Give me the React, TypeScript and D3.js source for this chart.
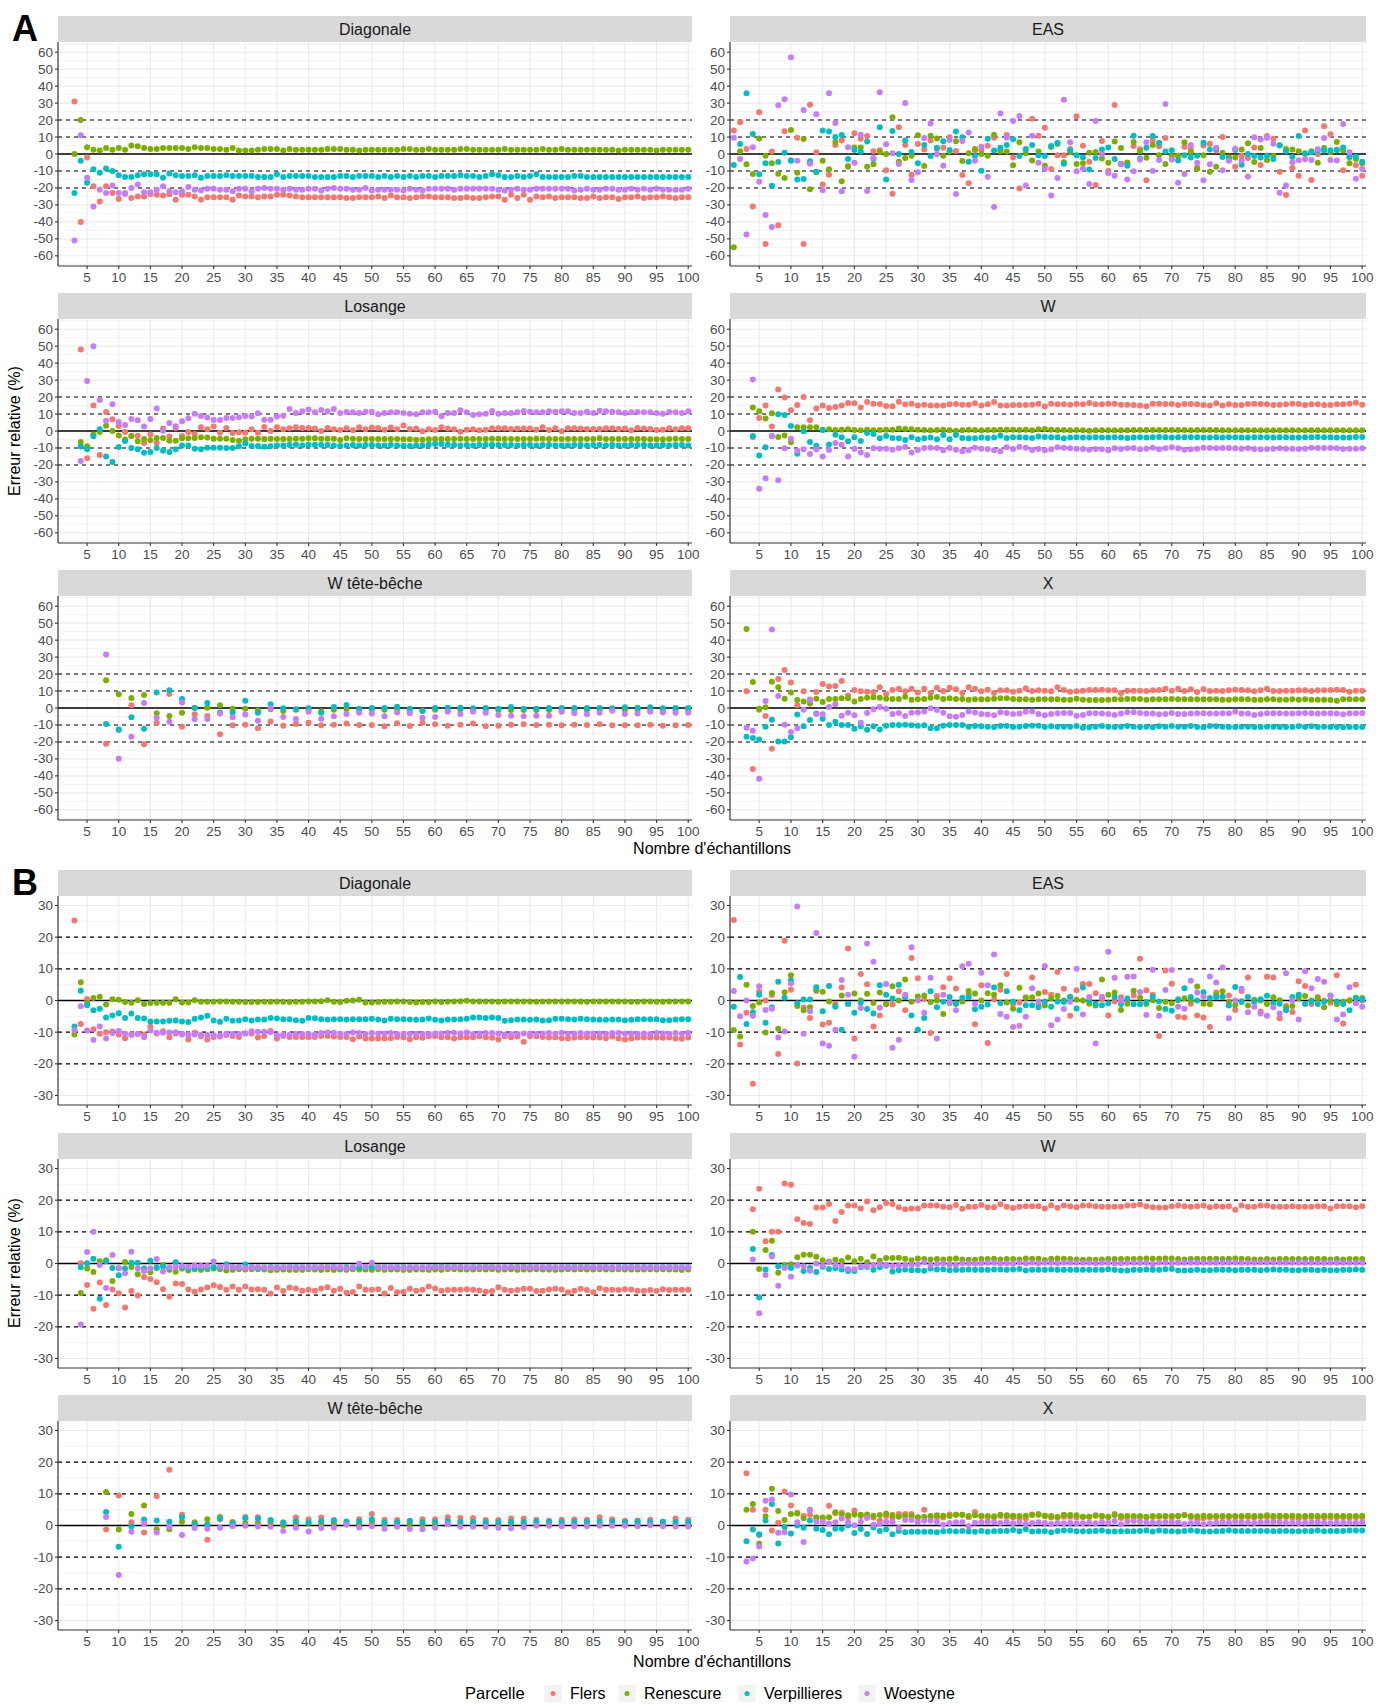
import React from "react";
import * as d3 from "d3";

// ---------------- DATA ----------------
const PARCELLES = ["Flers", "Renescure", "Verpillieres", "Woestyne"];
const COLORS = ["#F8766D", "#7CAE00", "#00BFC4", "#C77CFF"];
const X_TICKS = [5, 10, 15, 20, 25, 30, 35, 40, 45, 50, 55, 60, 65, 70, 75, 80, 85, 90, 95, 100];
const Y_TICKS_A = [-60, -50, -40, -30, -20, -10, 0, 10, 20, 30, 40, 50, 60];
const Y_MINOR_A = [-65, -55, -45, -35, -25, -15, -5, 5, 15, 25, 35, 45, 55, 65];
const Y_TICKS_B = [-30, -20, -10, 0, 10, 20, 30];
const Y_MINOR_B = [-25, -15, -5, 5, 15, 25];
const REF_LINES = [-20, -10, 10, 20];

// ---- A : Diagonale (n = 3..100)
const A_DIAG_FLERS = [31,-40,-2,-19,-28,-19,-23,-26.5,-23,-26,
-25,-25,-23.5,-24,-24.5,-23.7,-27,-24,-24,-25,
-27,-25.5,-25.5,-25.5,-25.5,-27,-24.5,-25,-25,-25.5,
-25,-25,-24,-24,-24.5,-25,-25.5,-25.5,-25.5,-25.5,
-25.5,-25.5,-25.5,-26,-26,-25.5,-25.5,-25.5,-25,-26,
-24.5,-25.5,-25.5,-26,-25.5,-25,-25,-25.5,-25.5,-25.5,
-26,-26,-25.5,-26,-26,-25.5,-25,-25,-27,-24,
-26,-24,-27,-25,-25.5,-25,-26,-25.5,-25.5,-25.5,
-26,-26,-25,-26,-25.5,-25.5,-26.5,-25.5,-25.5,-25,
-26,-25.5,-25.5,-25,-25.5,-26,-25.5,-25.5];
const A_DIAG_RENESCURE = [0,20,4,2.5,2,3.5,2.5,3.5,2.5,5,
4.5,3.5,3,3,3.5,3.5,3.5,3.5,3,4,
3.5,3.5,3,3,2.5,3.5,2,2,2,2.5,
3,3,3,2,3,2.5,2.5,2.5,2.5,2.5,
3,3,3,2.5,2.5,2,2.5,2.5,2.5,2.5,
2.5,2.5,3,3,2.5,2.5,3,2.5,2.5,2.5,
2.5,3,3,2.5,2.5,2.5,2.5,2.5,3,2.5,
2.5,2.5,2.5,2.5,3,2.5,2.5,3,2.5,2.5,
2.5,2.5,2.5,2.5,2.5,2.5,2,2.5,2.5,2.5,
2.5,2.5,2,2.5,2.5,2.5,2.5,2.5];
const A_DIAG_VERPILLIERES = [-23,-4,-17,-9,-11,-8.5,-10,-12.5,-13.5,-13.5,
-12.5,-12,-12,-12,-14,-11.5,-12.5,-13,-13,-12.5,
-14,-13,-13,-13,-12.5,-13,-13,-13,-13,-13.5,
-13.5,-13.5,-12,-13.5,-13,-13,-13,-13,-13.5,-13.5,
-13.5,-13.5,-13,-13,-13.5,-13,-13,-13,-13.5,-13,
-13.5,-13,-13.5,-13,-13.5,-13,-13,-13.5,-13,-13,
-13,-12.5,-13,-13,-13.5,-13,-12,-12.5,-13.5,-13.5,
-13,-13.5,-13,-12,-13.5,-13.5,-13.5,-13.5,-13.5,-13,
-13,-13.5,-13.5,-13.5,-13.5,-13.5,-13.5,-13.5,-13.5,-13.5,
-13.5,-13.5,-13.5,-13.5,-13.5,-13.5,-13.5,-13.5];
const A_DIAG_WOESTYNE = [-51,11,-14,-31,-21,-23,-18.5,-23,-23.5,-20,
-18,-22.5,-22.5,-21,-19,-22,-22.5,-22,-19.5,-21,
-21.5,-20.5,-20.5,-21,-21,-22,-20.5,-20.5,-22,-20.5,
-20,-20.5,-20.5,-21,-20.5,-21,-21,-20.5,-20.5,-21.5,
-20.5,-20,-20.5,-20.5,-21,-21,-20,-21.5,-21,-21,
-21,-21,-21.5,-20.5,-21,-21.5,-20.5,-20.5,-20.5,-20.5,
-21,-20.5,-20.5,-20.5,-20.5,-20.5,-20.5,-21,-21.5,-21,
-20.5,-21,-21,-20.5,-20.5,-20.5,-20.5,-20.5,-20.5,-21.5,
-21,-20.5,-21,-21,-20.5,-20.5,-21,-21,-20.5,-21,
-20.5,-21,-20.5,-21,-21,-21,-21,-20.5];

// ---- A : EAS (n = 1..100)
const A_EAS_FLERS = [13.8,18.7,3,-31,24.6,-53,1.4,-42,13.4,-3.7,
9.6,-53,29,1,-18,-12.2,5.3,8,-7,12.2,
9,10.6,1.6,2.2,-9.6,-23.4,15.7,5.3,-12.2,5.9,
2.6,8,3,3.7,9.8,1.8,-12.4,-17.3,2,2.2,
4.9,9.6,2.6,11.2,-2,-20.3,3,20.7,10.8,15.5,
-8.9,-0.8,-0.8,3,22.2,4.9,-4.5,-18.3,7.7,-10,
28.9,-5.7,-5.7,4.7,2.8,-15.5,8,4.5,9.4,-2.8,
-1,4.3,2.8,-8,5,6.1,2,10,-2,-7.5,
-1,-2.4,3.9,-6.5,10.6,9,-10.4,-24.2,-8.3,-12.8,
13.8,-15.3,0,16.3,11.6,2.6,-9.6,-2,-6.7,-12.8];
const A_EAS_RENESCURE = [-55,1.6,-6,-11.8,9.2,-1,-5.5,-11.6,-14.2,14.2,
-11,8.9,-20.7,-10.8,-4,-9,7,-16.1,-7.5,3.9,
3.9,-7.5,-6.1,1.2,0,21.6,-4.5,-2.4,-1,11,
-7.1,10.8,9.2,-1,1.4,7.5,-4.1,0.4,3,0,
-1,11.4,1.6,1.4,-6.7,6.9,0.4,-3.9,1.4,-6.9,
4.1,5.9,-4.9,1,-5.9,-5.5,0.8,1.2,-2.6,-5.1,
7.3,3.5,-5,7.1,1.8,-2.2,5.3,-0.8,-5.9,-0.8,
-1,6.9,1,-8.7,-0.8,-10.4,-7.5,0.8,-2,-2,
2.6,6.3,-4.7,3.5,-3.5,-1,5,3,2.6,1.6,
0,1.6,-5.1,3.5,1,7.1,2,-5.5,-3,-5.5];
const A_EAS_VERPILLIERES = [-6.5,5.9,35.8,11.8,-12,-5.5,-18.7,-4.7,0.8,-4,
-15,-14.8,-4.3,-10.4,13.8,13.2,10,11.2,-3,2.4,
1.4,7.3,-3,15.7,-15,13.6,0,7.9,1.2,-5.5,
5.3,-1.2,3.7,7.5,2.4,13.2,9.8,-4.5,-1,-9.8,
9,2,3.7,5.3,8.7,-1.2,2.8,5.3,-0.8,-1.2,
4.7,6.7,-5.7,2.2,-0.8,-2,-9.2,-2.4,2.6,3.9,
-3,-6.1,-6.9,10.8,-2.6,3.7,10.6,6.7,1.4,2.2,
-3.9,-0.8,-2,-1,6.7,2.6,3,-1.8,-3.1,2.4,
-6.3,0,-1.2,-2,-1,-3,5.1,1.6,-1.8,10.6,
0.4,1,2,2,2.2,2.2,3.9,-1.4,-1.6,-4.5];
const A_EAS_WOESTYNE = [9.6,-3,-47.4,4,-16.3,-36,-43,28.7,32.3,57,
-4,26,-5.7,23.4,-21.4,35.8,18.3,-22,4,-5.1,
11.4,-21.8,-2.4,36.4,5.7,0.4,-5.9,30,-15.3,-10.8,
9.4,17.9,-0.2,-6.9,8.3,-23.6,7.7,12.6,-4,4.3,
-13.4,-31.3,23.8,9.6,19.5,22.4,-18.5,10.8,-5.1,-8.7,
-24.4,-14.2,31.9,6.9,-10.2,-8.5,-17.7,19.5,0,-11.2,
-12.8,-6,-15.1,-10.2,-3.3,6.9,-10,-3.5,29.5,-3.3,
-16.9,-11.8,5.3,-5.1,-15.5,-6.1,3.7,-9.6,-4,3.1,
-3.9,-13.2,9.8,8.5,9.6,6.1,-22.8,-18.5,-4.9,-3.7,
-3.1,-3.5,2.8,9.4,-3.5,-3.9,17.7,1,-14.6,-8.9];

// ---- A : Losange (n = 4..100)
const A_LOS_FLERS = [48,-16.1,15.1,-14.2,11.2,6.9,3,-0.6,-3,-2.8,
-7.1,-2,-6.9,1.4,-3.3,1.8,-3,-0.6,-1.8,2.2,
1,2.6,-1,1.8,-1.2,-0.8,-1,1,-1,2.4,
0,2.2,1,1.6,2.2,1.8,1.8,1.4,0,1.8,
1,0.6,1.6,0.4,2.2,1,2,1.8,0.8,2,
1,3.3,1.2,1.4,-0.2,1,0.6,2.2,1.4,1,
-0.4,0.8,1,0.4,0.8,1.6,1.6,1.6,1.2,1.4,
1.4,1.4,0.8,2.2,0.6,1.6,-0.2,1.6,1.6,1.4,
1.2,1.2,1.2,1.6,1.6,1.2,1.4,0.4,1.8,1.4,
1.2,0.6,0.8,1.6,1,1.6,1.6];
const A_LOS_RENESCURE = [-6.5,-9,-2,-0.6,3.1,0,-2.6,-5,-3,-6.1,
-4.7,-5.5,-4.1,-4.1,-5.7,-5.7,-4.3,-4.3,-4.1,-3.7,
-3.9,-4.5,-4.5,-4.5,-5.3,-5.7,-4.9,-4.5,-4.5,-4.7,
-4.5,-4.7,-4.7,-4.7,-4.5,-4.5,-4.3,-4.3,-4.5,-4.5,
-4.5,-5.3,-4.3,-4.5,-4.7,-4.7,-4.7,-4.7,-4.7,-4.7,
-4.7,-4.9,-4.9,-5.1,-5.1,-4.9,-4.7,-4.7,-4.7,-4.7,
-4.5,-4.7,-4.7,-4.7,-4.7,-4.5,-4.5,-4.7,-4.7,-4.7,
-4.7,-4.7,-4.5,-4.5,-4.7,-4.7,-4.7,-4.7,-4.7,-4.7,
-4.7,-4.7,-4.3,-4.7,-4.7,-4.7,-4.7,-4.7,-4.7,-4.7,
-4.9,-4.9,-4.9,-4.7,-4.5,-4.7,-4.7];
const A_LOS_VERPILLIERES = [-9.2,-10.8,-3.1,1,-15,-18.3,-9.4,-5.9,-10,-10.8,
-12.8,-12.4,-10,-11.6,-12.4,-10.8,-8.5,-8.5,-10.4,-10.8,
-9.8,-9.8,-9.8,-10,-10,-9,-7.3,-8.9,-8.9,-9.3,
-9,-8.5,-8.5,-8.3,-8.1,-8.5,-8.1,-8.1,-8.1,-8.3,
-8.5,-8.9,-8.5,-8.3,-8.5,-8.3,-8.3,-8.5,-8.5,-8.3,
-8.5,-8.7,-8.9,-8.5,-8.5,-8.1,-7.7,-7.7,-8.1,-8.3,
-8.5,-8.3,-8.5,-8.3,-8.1,-8.1,-8.3,-8.3,-8.3,-8.5,
-8.3,-8.3,-8.5,-8.3,-8.3,-8.5,-8.5,-8.5,-8.3,-8.3,
-8.5,-8.3,-8.3,-8.5,-8.3,-8.5,-8.5,-8.3,-8.3,-8.3,
-8.5,-8.5,-8.3,-8.5,-8.3,-8.3,-8.5];
const A_LOS_WOESTYNE = [-17.7,29.5,50,18.3,6.1,15.7,5.3,3.5,7.1,6.3,
2.6,7.1,13.2,0.2,4.7,2.8,5.7,7.5,10.2,8.9,
7.9,6.5,6.5,7.7,7.7,8.1,8.9,8.5,10.4,6.7,
6.7,8.5,9,13,10.6,11.6,12.6,11,12.4,11.6,
13,10.6,11.2,11,10.6,11.4,11.4,9.8,10.6,11,
11,10.6,10.2,9.8,11,11,11.4,8.7,10.6,10.6,
12.2,11,9.4,9.8,10.2,11.8,10.2,10.6,10.6,11,
11.8,11.4,11,11,11.6,11.4,11.6,11.6,10.6,10.6,
11.4,10.6,12,11.6,11.4,11,10.6,11,11.2,11,
11,10.6,10.2,11.2,11,10.6,11.6];

// ---- A : W (n = 4..100)
const A_W_FLERS = [-3.5,7.7,15,2.6,24.4,19.7,12.2,15.3,20,6.3,
13.2,15.1,13.6,14.2,15.1,16.5,16.3,13.8,17.1,16.1,
15.9,14.8,14.6,17.3,15.7,16.1,15.1,15.5,15.1,15.1,
15.1,15.7,15.9,15.5,15.5,16.3,15.1,15.7,17.1,15.1,
15.1,15.3,15.3,15.3,15.5,16.1,14.4,16.1,15.7,15.7,
15.5,15.9,15.7,16.5,15.7,15.7,16.1,16.1,15.5,15.5,
15.3,15.1,14.6,16.1,16.1,15.9,15.9,15.3,15.9,15.9,
15.7,15.3,15.1,16.3,15.1,15.7,15.3,15.3,15.9,16.1,
15.9,15.7,15.3,15.5,15.7,16.1,15.9,15.3,15.7,15.7,
15.3,15.3,15.7,15.7,16.1,16.7,15.5];
const A_W_RENESCURE = [13.8,11.6,7.3,10.4,-3.5,-2.6,-6.7,2.2,2.2,2.2,
2.2,0.6,1,0.6,0.8,1,0.6,0.4,0.8,0.4,
0.6,0.8,0.8,1.4,1.2,1,0.8,0.6,0.4,0.6,
0.8,0.4,0.2,0.4,0.8,0.6,0.4,0.6,0.6,0.8,
0.8,0.8,0.6,0.8,0.4,1,1.2,0.8,0.6,0.6,
0.4,0.6,0.4,0.2,0.4,0.4,0.4,0.4,0.4,0.4,
0.6,0.6,0.6,0.6,0.6,0.6,0.6,0.6,0.6,0.4,
0.6,0.6,0.6,0.6,0.4,0.4,0.4,0.4,0.4,0.4,
0.4,0.4,0.4,0.4,0.4,0.4,0.4,0.4,0.4,0.4,
0.4,0.4,0.4,0.4,0.4,0.4,0.4];
const A_W_VERPILLIERES = [-3,-14.4,-9.6,-3,9.8,9.4,3,-13.4,-0.2,-6.5,
-8.7,0.6,-7.9,-2.2,-3.7,-6.1,-3.7,-5.9,-1.2,-1.8,
-4.3,-3,-4.1,-4.3,-5.3,-3.7,-4.9,-4.3,-3.9,-4.9,
-2.4,-4.9,-2.4,-4.1,-4.3,-4.3,-3.9,-4.1,-3.9,-2.8,
-4.1,-3.7,-3.7,-3.9,-4.1,-3.3,-3.5,-3.7,-3.7,-4.3,
-3.9,-3.7,-3.9,-3.9,-3.7,-3.9,-3.9,-3.7,-3.9,-4.1,
-3.9,-3.7,-3.9,-3.7,-3.5,-3.7,-3.9,-3.7,-3.7,-3.7,
-3.7,-3.9,-3.9,-3.7,-3.9,-3.7,-3.7,-3.9,-3.9,-3.7,
-3.7,-3.7,-3.9,-3.7,-3.7,-3.9,-3.9,-3.7,-3.7,-3.5,
-3.7,-3.7,-3.9,-3.9,-3.9,-3.5,-3.5];
const A_W_WOESTYNE = [30.3,-34,-27.9,-3,-29,-10.2,-4.5,-11.6,-10.8,-13.6,
-10.8,-15.1,-11.2,-7.1,-8.1,-15.1,-10.4,-12.6,-14.2,-10.2,
-10.4,-10.4,-11,-10.2,-9.4,-12.6,-11.2,-10,-9.8,-10,
-11.4,-10,-11,-12,-11.4,-9.8,-10.4,-10.6,-11.4,-12,
-9.6,-10.6,-9.4,-9.8,-11.2,-10.6,-11.4,-10.8,-9.6,-9.8,
-10.2,-10.4,-10.6,-11,-10.6,-10.8,-11.4,-10.2,-10.6,-10.2,
-10,-10.8,-10.4,-9.8,-10.8,-10.2,-9.6,-10.2,-11,-10.8,
-10.4,-9.8,-10,-10.2,-10,-10,-10.2,-10.4,-10.2,-10.6,
-10.8,-10.6,-10.4,-10.2,-10.4,-10.4,-10.6,-10.4,-9.8,-10,
-10,-10,-10.2,-10.6,-10.4,-10.4,-10.2];

// ---- A : W tête-bêche (n = 8,10,...,100)
const A_WTB_FLERS = [-21,-13,1.6,-21.4,-8.7,8.3,-11,-3.7,-4.7,-15.5,
-10.2,-9.8,-12,-7.9,-10.4,-9.4,-8.7,-10.2,-9.8,-9.2,
-10,-10,-10.8,-9,-10.6,-8.7,-9.6,-10.4,-9.8,-9.2,
-10.8,-10.4,-9.8,-9.6,-10,-9.8,-10.2,-9.8,-10,-9.6,
-10.2,-10.2,-10.2,-9.8,-10.4,-10.2,-10];
const A_WTB_RENESCURE = [16.3,8.1,5.9,7.7,-3.1,-4.7,-2.8,0.2,0.2,1.6,
-0.4,-0.4,-1.4,-0.8,-1.8,-1,-1,-2,-1,-0.6,
-1,-0.8,-1,-0.6,-1.2,-1.4,-1,-1.2,-1,-1,
-1,-1.2,-1.2,-1.2,-1.2,-1.2,-1.2,-1.2,-1.2,-1.2,
-1.2,-1.2,-1.2,-1.2,-1.2,-1.2,-1.2];
const A_WTB_VERPILLIERES = [-9.4,-12.6,-5.5,-12.2,9.2,10.4,5.3,0,3,-2.6,
-2.6,4.3,-2.8,2.2,-0.2,-0.8,-0.2,-2.8,0.6,1.8,
-0.4,0,0,0.8,-0.4,-1.8,0,0.2,0.2,-0.2,
0,-0.4,0.6,-0.4,-0.4,0,0,0,0,0,
-0.2,0.4,0.2,0.4,-0.2,0,0];
const A_WTB_WOESTYNE = [31.5,-29.9,-16.9,3,-5.7,-8.1,3.3,-6.7,-6.5,-3.3,
-5.5,-3.9,-7.5,-0.2,-5.3,-6.5,-2.2,-6.3,-4.9,-3.5,
-2.8,-3.3,-4.9,-2.6,-3.1,-5.7,-5.3,-2.2,-3.5,-2.2,
-2.8,-4.1,-4.5,-4.9,-4.5,-4.5,-2.2,-3.1,-3.7,-2.8,
-1.6,-3.5,-3.3,-2.2,-2.6,-2.8,-2.8];

// ---- A : X (n = 3..100)
const A_X_FLERS = [9.8,-36,-1,-4.7,-24,17.1,22.4,15,1.6,9.8,
5,9.4,14.2,12.6,13,15.9,7.3,10.6,9.8,9.6,
9.4,12.2,8.3,10.6,11.4,9.8,11.4,9.2,11.4,8.9,
12,10,12,11,8.9,12.2,11.4,9.8,10.8,8.9,
10.4,10.4,9.6,10.2,11.6,10,10.4,10.2,9.8,12.2,
10.6,9.6,9.8,10.2,10.6,10.6,10.8,10.4,10.4,8.9,
10.2,10.2,10.2,10,10.4,10.6,11.4,10.2,11.4,10,
11,9.4,11,10,10.2,10,10.4,10.8,10.6,10.4,
9.8,10.4,11.4,10,10,10.2,10.2,10.4,10.4,10,
10.4,10.4,10.6,10.8,10.6,9.6,10.2,10.2];
const A_X_RENESCURE = [46.6,15.3,-0.4,0.4,15.5,12.2,5.5,9.2,4.7,3.9,
2.6,5.5,3.5,5.3,5.3,5.7,5.7,3.9,5.3,6.1,
6.3,6.1,5.5,5.3,5.3,6.7,4.9,5.1,5.3,6.1,
6.5,5.3,5.7,5.3,5.3,4.9,5.1,5.1,5.1,5.5,
5.7,5.7,5.3,5.1,5.1,4.9,5.1,5.1,5.1,5.1,
4.9,4.9,5.5,4.9,4.7,4.7,4.7,4.9,5.1,5.1,
5.3,5.3,5.3,4.9,5.1,5.1,5.1,5.3,5.1,5.1,
5.1,5.1,5.1,5.1,5.1,4.9,4.9,5.1,5.1,5.1,
4.9,4.9,5.1,5.1,4.9,4.9,5.1,4.9,5.1,4.9,
4.9,4.9,4.7,4.3,5.1,5.1,5.1,5.1];
const A_X_VERPILLIERES = [-17,-17.7,-18.5,-11,-6.9,-19.7,-19.7,-17.3,-3.9,-10.8,
-7.1,-3.3,-6.3,-10,-8.1,-10,-10,-12.2,-10.8,-12.8,
-10.8,-12.6,-10.4,-10,-10,-9.8,-10.2,-10.4,-10.2,-12,
-12,-10.4,-10,-10,-10,-11,-10.6,-10.8,-11,-11.2,
-10.6,-10.6,-11.2,-11,-10.6,-10.4,-10.4,-11.2,-10.8,-11,
-11,-11,-10.6,-11.6,-11.4,-11,-10.6,-11,-11.2,-11,
-10.6,-11,-11.2,-11,-11.4,-10.8,-11,-10.6,-11,-11,
-10.6,-11.2,-11.4,-10.6,-10.8,-11,-11.2,-11.2,-11,-11,
-11.2,-11.2,-11,-11,-11.2,-11.2,-11.2,-10.8,-11.2,-10.8,
-11.2,-11,-11.2,-11.2,-11.4,-11.2,-11.2,-11.2];
const A_X_WOESTYNE = [-11.6,-13.4,-41.7,4.1,46.2,7.1,-9.8,-14.2,-12,-1,
4.5,-3.5,-3.7,0.6,2.2,-4.5,-2.8,-4.3,-8.7,-2.9,
-0.8,0.6,-0.4,-3.5,-2.9,-4.7,-2.8,-2.7,-2.1,-0.2,
-1.2,-2.8,-4.9,-5.1,-4.1,-2,-2.6,-3.5,-3.9,-4.3,
-2.5,-2.9,-3.5,-3.3,-2.2,-2,-3.5,-4.3,-3.5,-3.1,
-2.9,-2.9,-4.5,-4.1,-3.1,-3.1,-3.3,-3.5,-4.1,-3.3,
-2.5,-2.5,-2.9,-3.3,-3.3,-3.7,-3.5,-2.9,-3.5,-3.5,
-3.3,-3.1,-3.1,-3.3,-3.3,-3.1,-3.1,-2.2,-3.3,-3.3,
-4.1,-3.5,-3.1,-3.1,-3.1,-3.3,-3.3,-3.1,-2.9,-3.1,
-3.3,-3.1,-3.1,-3.3,-3.7,-3.1,-3.1,-2.9];

// ---- B : Diagonale (n = 3..100)
const B_DIAG_FLERS = [25.3,-7.4,0.5,-9.1,-10.5,-10,-9.8,-10.7,-11.9,-10.8,
-10.6,-10.7,-8.3,-10.4,-9.7,-11.6,-10.4,-10.5,-12.3,-10.2,
-11.3,-12.3,-11.5,-11.4,-10.9,-11.2,-11.5,-10.4,-10.4,-11.7,
-11.2,-9.6,-12,-11.2,-11.5,-11.5,-11.5,-11.5,-11.5,-11.2,
-11.2,-11.4,-11.5,-11.5,-12.2,-11.4,-12,-12,-12,-12,
-11.9,-11.5,-11.6,-12.2,-11.6,-11.8,-11.3,-11.3,-11.6,-11.6,
-12,-11.6,-11.6,-11.6,-11.3,-11.6,-11.8,-12.3,-11.3,-11.6,
-11.4,-13,-11.3,-11.3,-11.5,-11.7,-11.6,-11.9,-12,-11.7,
-11.6,-11.6,-11.7,-11.7,-11.9,-11.4,-12,-12.3,-12,-11.7,
-11.7,-11.7,-11.7,-11.8,-11.7,-12,-12.1,-11.7];
const B_DIAG_RENESCURE = [-10.7,5.8,-0.8,0.8,1.2,-1.3,0.4,0.2,-0.5,-0.7,
0.1,-1.1,-0.8,-0.7,-0.7,-0.7,0.4,-0.6,-0.6,0.1,
-0.4,-0.4,-0.4,-0.3,-0.3,-0.4,-0.4,-0.5,-0.5,-0.5,
-0.4,-0.4,-0.4,-0.4,-0.5,-0.4,-0.4,-0.3,-0.3,-0.2,
0.1,-0.4,-0.5,-0.1,0,0.2,-0.6,-0.6,-0.5,-0.4,
-0.4,-0.3,-0.3,-0.5,-0.6,-0.5,-0.5,-0.3,-0.5,-0.4,
-0.3,-0.2,-0.1,-0.3,-0.3,-0.3,-0.3,-0.4,-0.3,-0.3,
-0.3,-0.3,-0.3,-0.4,-0.3,-0.3,-0.3,-0.3,-0.3,-0.3,
-0.3,-0.4,-0.3,-0.3,-0.3,-0.3,-0.3,-0.3,-0.4,-0.4,
-0.3,-0.3,-0.4,-0.4,-0.3,-0.3,-0.3,-0.3];
const B_DIAG_VERPILLIERES = [-8.2,3.1,-1.5,-3.1,-2.6,-5.4,-4.7,-4,-5.5,-4.1,
-5.5,-5.7,-6.6,-6.6,-6.6,-6.4,-6.3,-6.6,-6.8,-5.8,
-5.4,-4.8,-6.3,-6.7,-5.8,-6.4,-6.3,-5.9,-6.3,-6,
-6,-5.5,-5.7,-5.9,-5.9,-6.2,-6.4,-5.5,-5.6,-5.9,
-6,-5.9,-5.9,-6,-5.9,-5.9,-5.9,-5.8,-6,-6.3,
-5.8,-5.9,-5.9,-6,-6.1,-6,-5.7,-6.1,-6.3,-6,
-6,-5.9,-5.8,-5.4,-5.4,-5.5,-5.4,-5.5,-6.4,-6.2,
-6,-6,-6.1,-6,-6.3,-6.2,-5.8,-5.8,-5.9,-6,
-5.8,-5.9,-6,-6.1,-6.1,-6,-6,-6.2,-6.1,-5.9,
-5.9,-5.9,-5.9,-6.2,-6.2,-6,-5.9,-5.9];
const B_DIAG_WOESTYNE = [-9.3,-1.8,-9.5,-12.5,-8.2,-12,-10.3,-9.6,-10.5,-10.8,
-10.6,-11.6,-9.5,-10.2,-10.2,-10.1,-10,-10.7,-10.8,-10.7,
-10.8,-10.9,-11,-11,-10.5,-10.6,-10.6,-10.4,-9.7,-9.9,
-9.9,-10,-11,-10.8,-10.8,-10.6,-10.6,-10.6,-10.8,-10.3,
-10.1,-10.2,-10.5,-10.6,-10.1,-10.3,-10.6,-10.3,-10.4,-10.4,
-10.3,-10.6,-10.6,-10.5,-10.5,-10.5,-10.6,-10.4,-10.4,-10.3,
-10.2,-10.4,-10.1,-10.6,-10.4,-10.3,-10.3,-10.4,-10.7,-10.6,
-10.6,-10.4,-10.4,-10.6,-10.4,-10.3,-10.5,-10.2,-10.5,-10.4,
-10.3,-10.4,-10.4,-10.4,-10.5,-10.3,-10.3,-10.5,-10.4,-10.5,
-10.4,-10.6,-10.3,-10.4,-10.5,-10.3,-10.5,-10.3];

// ---- B : EAS (n = 1..100)
const B_EAS_FLERS = [25.4,-13.9,-3.9,-26.3,2.8,0,1.7,-16.9,18.9,3.4,
-19.9,-2.2,-5.5,3,-7.6,-7,-1,4.1,16.4,-12,
8.4,5.1,-8.2,-4.7,-1,-1.3,2.9,-3.1,13.4,7,
0.5,-10.3,1.4,4.2,7,3.8,0,2,-7.5,4.8,
-13.4,0.3,3.4,8.4,-1,-0.6,1,7.3,-1,2.7,
1.8,9,3.7,-4.8,3.2,5.2,5.2,2.3,0.5,-4.7,
-0.3,1,0,1.6,13.2,3.2,1.8,-11.2,9.5,5.3,
-5.1,-5.4,-1,-4.7,-5.4,-8.4,2.5,1,1.6,-3,
3,7.3,0,-3.5,7.5,7.3,-5.6,-1.7,-3.6,6.1,
4.6,-1.1,1.1,0,-0.7,8,-7.3,0,5,0];
const B_EAS_RENESCURE = [-9.3,-11.4,5,-1.7,-0.6,-10.1,2.4,-8.9,2.6,8,
-1.7,-3.1,-2.1,3.3,2.8,-0.3,-1.7,1.6,-1.1,2.2,
0,2.1,-0.8,2.5,-1.2,4.5,0,6.6,-0.4,1.3,
1.6,-0.5,0,-4.3,-0.8,-1.1,-0.3,3,2.2,0,
2.3,1.8,4.8,-0.6,-2.6,4,0.8,1,2.2,-1.6,
0.6,1.4,0,1.2,0.2,0,-1,-1.6,6.6,1.8,
2.5,-3,-1,3.1,0.9,-1.1,0.1,-2.4,-0.4,-0.9,
0.1,0.7,0,4.4,-1,-1.2,1.8,2.9,-0.5,-1.4,
-0.2,-1.6,0.2,0,-1.1,1,0.1,-2.2,-1.7,0.7,
1.4,0,0.7,-2.1,0,-1.1,-0.4,0,0.9,0.8];
const B_EAS_VERPILLIERES = [-2,7.4,-7.4,-3.7,1.8,-7,-2.1,5.9,0.9,6.3,
-0.9,0.3,0.3,4.2,-3.4,4.6,-2,-9.2,-1,-3.9,
-0.7,-2.7,-4.1,4.8,1.8,0.6,5,1,-4.7,-9.2,
-5.5,2.9,-2.1,-0.4,1.1,-0.9,0.9,1,-2.8,-2,
-1.3,4.1,-0.8,2.9,-0.3,-3.1,-1.5,-1.5,-2.1,-0.3,
-2,-0.3,-0.5,1,-2.5,4.1,0,-1,-1.5,-0.9,
1.1,-1.1,0.6,-1.2,-1.2,-0.5,1.2,-0.3,-2.7,-3.2,
0.4,3.9,1.1,0,2.6,0.8,1,1.3,-1.6,4.3,
-0.5,1.1,-0.5,0.4,1.5,-0.9,-1,-3.1,1.1,1.8,
-1.1,-0.2,-1.1,-0.4,1.6,-0.3,-1.1,-3.1,0.7,0.3];
const B_EAS_WOESTYNE = [3,-5,0,-4.8,4.5,-3,-2.6,-11.7,-9.8,5.4,
29.7,-10.5,-3.4,21.3,-13.6,-14.3,-9.2,6.5,1.8,-17.8,
-2.4,18,12.2,-2.3,5.2,-14.9,-12.4,1.8,16.8,0,
-3.9,7.2,-12,1.8,-0.5,-3.1,10.8,11.6,-1,8.8,
4.8,14.5,-4.3,-5.1,-8.4,-8,-5.1,3.9,-0.3,10.9,
-7.8,-6,-2.7,-0.4,10,-4.4,1.1,-13.6,1.2,15.4,
7.2,0,7.5,7.6,2.7,-4.6,9.7,-4.8,3.3,9.6,
-2,-2.6,6.2,2.5,1.3,7.6,5.7,10.4,-5.6,0,
3.7,-3.7,-2,-4.1,-4.8,-2.1,-4.1,8.6,0,-6,
9.2,3.9,6.8,5.9,1.4,-6,-4.4,4.2,-0.9,-2];

// ---- B : Losange (n = 4..100)
const B_LOS_FLERS = [0.1,-6.8,-14.3,-6,-13.1,-8.2,-9.4,-13.9,-8.7,-10.1,
-4.3,-4.9,-5.9,-8.1,-10.5,-6.3,-6.5,-8.2,-8.9,-8.2,
-7.6,-6.9,-7.4,-8.3,-7.3,-8.3,-7.3,-8.2,-8.1,-8.3,
-9.5,-7.6,-8.7,-7.6,-7.9,-8.6,-8.3,-8.6,-7.9,-7.5,
-8.6,-8,-9.2,-9,-7.3,-8.3,-8.3,-8.1,-9.5,-7.7,
-9.1,-8.9,-8,-8.6,-8.3,-7.3,-7.9,-8.6,-8.4,-8.3,
-8.3,-8.1,-8.3,-8.5,-8.9,-8.7,-7.5,-8.3,-8.6,-8.4,
-8,-8,-8.7,-8.6,-8.2,-8,-8.2,-9.1,-8.6,-8,
-8.4,-9.1,-7.8,-8.3,-8.3,-8.4,-8.1,-8.2,-8.6,-8.6,
-8.4,-8.7,-8.1,-8.4,-8.3,-8.3,-8.3];
const B_LOS_RENESCURE = [-9.3,-1.6,-2.7,0.7,1,-5.5,-1.5,0.5,-1.1,-3.4,
-2.3,-2.8,-1.5,-0.5,-2,-2.6,-1.6,-2.2,-1.8,-2,
-1.8,-1.6,-1.8,-2.2,-2,-1.8,-1.9,-1.8,-1.8,-1.9,
-2.1,-2,-1.9,-2,-2,-2,-1.8,-1.9,-2,-1.9,
-2,-1.9,-2,-1.8,-1.9,-1.9,-2,-1.8,-2,-1.9,
-1.9,-2,-2,-1.9,-1.9,-2,-1.9,-2,-1.8,-1.8,
-1.9,-1.9,-1.9,-1.8,-1.9,-1.8,-2,-1.9,-1.8,-2,
-1.9,-1.9,-1.8,-1.9,-1.9,-2,-1.9,-1.8,-1.9,-1.8,
-1.9,-1.9,-1.8,-1.9,-1.9,-1.8,-1.9,-1.9,-1.9,-1.9,
-1.8,-1.9,-1.8,-1.9,-1.9,-2,-1.9];
const B_LOS_VERPILLIERES = [-1.2,0.1,1.5,-11.1,0.7,-1.4,-3.7,-1.6,0.2,0.2,
-1.6,0.9,-1.2,-1,-1.4,0.4,-1.2,-1.5,-1.6,-1.2,
-1.4,-1.2,-1.3,-0.2,-1.3,-1.2,-0.3,-1.2,-1.4,-1.4,
-1.2,-1.3,-1.3,-1.1,-1.2,-1.3,-1.2,-1.3,-1.3,-1.2,
-1.1,-1.4,-1.2,-1.3,-1.2,-1.2,-1.1,-1.2,-1.2,-1.3,
-1.2,-1.2,-1.3,-1.3,-1.3,-1.2,-1.1,-1,-1.2,-1.2,
-1.2,-1.3,-1.2,-1.2,-1.1,-1.2,-1.3,-1.3,-1.2,-1.2,
-1.1,-1.2,-1.2,-1.3,-1.2,-1.3,-1.2,-1.2,-1.2,-1.2,
-1.2,-1.2,-1.2,-1.2,-1.3,-1.2,-1.2,-1.2,-1.2,-1.2,
-1.2,-1.2,-1.2,-1.2,-1.2,-1.2,-1.2];
const B_LOS_WOESTYNE = [-19.3,3.6,10,-0.5,-7.7,2.7,-1.4,-3.1,3.7,-1.6,
-2.3,-1.6,1.4,-2.5,-1.3,-1.1,-0.8,-1,-0.6,-0.8,
-0.8,0.6,-1,-1,-1.2,-1.3,-1.4,-1.3,-1.2,-1.3,
-1.3,-1.4,-1.3,-1.2,-1.3,-1.3,-1.3,-1.3,-1.2,-1.3,
-1.2,-1.2,-1.4,-1.3,-0.1,-1,0.2,-1.2,-1.3,-1.3,
-1.3,-1.4,-1.3,-1.3,-1.3,-1.3,-1.3,-1.2,-1.3,-1.3,
-1.2,-1.3,-1.3,-1.3,-1.2,-1.2,-1.3,-1.3,-1.2,-1.3,
-1.2,-1.3,-1.2,-1.3,-1.3,-1.3,-1.2,-1.3,-1.3,-1.3,
-1.3,-1.3,-1.3,-1.3,-1.3,-1.3,-1.3,-1.3,-1.3,-1.3,
-1.3,-1.3,-1.3,-1.3,-1.3,-1.3,-1.3];

// ---- B : W (n = 4..100)
const B_W_FLERS = [17.1,23.6,7,10,10,25.3,24.9,14,12.8,12.5,
17.7,17.7,18.8,13.4,16.3,18.3,18.3,17.4,19.6,16.8,
17.8,19.1,18.8,17.8,17.1,17.4,17.4,18.3,18.3,18.3,
17.9,17.8,18.5,17.3,17.9,17.9,18.5,17.8,17.8,18.7,
17.9,17.5,17.9,18.1,18.1,18.1,17.4,18.4,17.6,18.3,
18.1,17.8,18.3,18.3,18.1,17.9,17.9,17.9,17.9,18.3,
18.3,18.6,18.1,17.8,17.7,17.7,18.1,18.3,18.1,17.9,
18.1,18.3,17.8,18.1,17.9,18.1,17,18.3,17.9,17.9,
18.3,18.3,17.9,17.9,17.9,18.1,17.9,17.9,17.9,18.1,
18.1,17.4,18.1,18.1,18.1,17.8,18.1];
const B_W_RENESCURE = [10,-1.7,4.3,7.2,-2.9,-0.5,-0.2,2,2.8,2.8,
2.1,1,0.6,1.2,0.8,1.9,0.7,1.5,0.4,2.2,
0.9,1.7,1.7,1.8,1.5,1,1.6,1.4,1.3,1.4,
1.3,1.4,1.6,1.3,1.2,1.2,1.4,1.4,1.5,1.3,
1.4,1.4,1.3,1.6,1.5,1.5,1.1,1.5,1.6,1.5,
1.4,1.3,1.2,1.3,1.2,1.3,1.4,1.4,1.4,1.4,
1.4,1.5,1.6,1.5,1.5,1.6,1.6,1.4,1.3,1.4,
1.5,1.4,1.5,1.5,1.4,1.5,1.6,1.5,1.4,1.3,
1.3,1.4,1.3,1.4,1.4,1.4,1.4,1.4,1.4,1.4,
1.4,1.3,1.4,1.3,1.4,1.4,1.4];
const B_W_VERPILLIERES = [4.6,-10.7,-1.9,2.7,-0.9,-1.2,-1.4,-0.6,-2.4,-1.4,
-2.7,-1,-1.7,-1.5,-1.9,-2.4,-2.4,-1.2,-1.1,-2,
-1.2,-0.7,-2.5,-2.1,-1.9,-2.1,-2.1,-2.3,-1.6,-1.9,
-1.8,-2.1,-2,-2,-1.9,-2,-2,-2,-1.9,-1.9,
-2,-1.9,-1.7,-2.2,-2,-2,-2,-1.9,-2,-2,
-2,-2,-2,-2,-2,-2,-1.8,-2,-2.2,-2.2,
-2,-2,-1.9,-2,-2,-1.8,-1.7,-2.2,-2.2,-2.1,
-2,-2.1,-2.1,-2,-2,-2,-2.1,-2,-2,-2,
-2.1,-2,-1.9,-2,-2,-2.1,-2.1,-2,-2,-2.1,
-2,-2.1,-2.1,-2,-2,-1.9,-2];
const B_W_WOESTYNE = [1.3,-15.7,-3.6,2.2,-7,-1.4,-4.2,-0.5,-0.9,-2.3,
0,-0.6,0.4,-0.4,-0.8,-1.7,-1.8,-0.9,-0.9,-0.4,
-0.2,-0.4,-0.8,-0.6,-0.5,-0.4,-0.2,0.4,-0.6,-0.1,
0.1,-0.4,-0.5,0.1,0.1,0,0.1,0.2,0.2,0.1,
0.1,0,0.3,0.1,0.2,0.1,0.2,0.2,0.1,0.2,
0.2,0.2,0.2,0.2,0.1,0.2,0.2,0.1,0.1,0.2,
0.2,0.2,0.2,-0.2,0.2,0.2,0.1,0.2,0.2,0.2,
0.2,0.2,0.2,0.2,0.2,0.2,0.3,0.2,0.2,0.2,
0.3,0.3,0.3,0.2,0.2,0.2,0.2,0.2,0.2,0.2,
0.2,0.2,0.2,0.2,0.2,0.2,0.2];

// ---- B : W tête-bêche (n = 8,10,...,100)
const B_WTB_FLERS = [-1.3,9.5,1,-2.2,9.2,17.6,3.4,0.5,-4.5,1.9,
0.8,2.7,2.6,1.4,1,2.5,2,2.5,1.7,1,
2,3.6,1.8,1.7,1.5,2,2,2.6,2.4,2.4,
1.7,1.7,2.2,2.2,1.8,1.5,1.8,1.9,1.8,2.6,
2,1.5,1.6,1.8,1.2,2.2,1.8];
const B_WTB_RENESCURE = [10.6,-1.3,3.6,6.3,-1.3,-1.2,1.2,1,2,2.7,
1.1,0.7,0.9,0.8,0.1,0.7,0.8,0.6,0.6,0.4,
0.6,1,0.5,0.5,0.4,0.4,0.4,0.6,0.6,0.6,
0.5,0.5,0.9,0.5,0.5,0.5,0.5,0.5,0.5,0.5,
0.5,0.5,0.5,0.5,0.5,0.5,0.5];
const B_WTB_VERPILLIERES = [4.3,-6.7,-0.3,1.9,1.6,1.2,2.6,0.5,0.3,2.2,
0.6,2.3,2.1,1.7,0.9,1.4,1,1.4,1.6,1.3,
1.3,2,1,1,1.4,1,1.2,1.4,1.2,1.2,
1.1,1.1,1.2,1.1,1.3,1.2,1.2,1.2,1.2,1.4,
1.3,1.1,1.3,1.2,1.2,1.2,1.2];
const B_WTB_WOESTYNE = [2.7,-15.6,-2,0.6,-2.2,-0.4,-3,-0.8,-1,-0.7,
-0.2,-0.1,-0.3,-0.4,-1.7,-0.7,-1.9,-0.8,-0.6,0.2,
-0.6,-0.2,-1,-0.4,-1.1,-1.2,-0.7,0.4,-0.4,-0.4,
-0.4,-0.7,-0.9,-0.5,-0.1,-0.1,-0.2,-0.2,-0.2,-0.1,
-0.1,-0.1,-0.2,0.1,-0.2,-0.3,-0.3];

// ---- B : X (n = 3..100)
const B_X_FLERS = [16.5,5,-3,5,-1.6,0.9,10.7,6.3,4,3,
3.4,2.5,2.3,6.2,3.9,4,2.5,4.7,3,3,
2.5,1.5,3,2.5,3.6,3.6,3.6,2.5,5,2.5,
2.6,2.5,3.5,3.4,3.4,2.6,4.3,2.8,2.8,2.5,
3,2.8,2.6,2.4,2.2,3.5,3.6,2.9,2.5,2.6,
2.8,2.8,2.6,2.7,2.8,3.2,2.8,2.6,3.6,2.4,
2.7,2.6,2.7,2.6,2.7,2.8,2.8,2.5,3,3.3,
2.6,1.9,2.3,2.6,2.6,2.7,2.6,2.8,2.7,2.7,
2.5,2.8,2.7,2.6,2.6,2.7,2.5,2.3,2.6,2.7,
2.6,2.5,2.6,2.6,2.6,2.5,2.6,2.6];
const B_X_RENESCURE = [5,6.8,-5.8,2.9,11.6,4.6,1.7,3.6,3.8,2.3,
5,2.5,2.5,2.6,4.2,3.4,3.2,3.5,3.4,3.5,
3.1,3.3,3.8,3.3,2.8,3,3,2.6,2.8,3,
3.2,3.1,3,3.4,3.4,3,3.2,3.1,3,2.9,
3.4,3.2,3.1,3,3.1,3.3,3.4,3.1,3,2.8,
3.4,3.3,3.2,2.8,2.8,3.1,3.1,2.8,3.3,3,
3,3,3,2.8,3,3,3,3,3,3.2,
3,2.9,3.1,3,3,3,3,3,3,3.1,
3,3,3.2,3,3.1,3,3.1,3,3,3.1,
3,3.1,3.1,3,3,3,3,3.1];
const B_X_VERPILLIERES = [-5,-1.3,-2.8,1.6,6.8,-5.7,-0.5,-2.5,0,-0.7,
1.6,-1,-1.4,-2.8,-1,-1,0,-2.4,-1.1,-2.7,
-0.6,-1.7,-1.2,-2.8,-1.7,-2.1,-2,-2,-2,-2,
-2.1,-1.8,-1.7,-1.9,-1.7,-1.9,-2,-1.7,-2,-1.8,
-1.7,-1.7,-1.4,-1.8,-1.2,-1.9,-1.8,-1.8,-2.1,-1.7,
-1.6,-1.6,-1.8,-1.8,-1.8,-1.7,-1.6,-1.9,-1.9,-1.8,
-1.8,-1.8,-1.7,-1.6,-1.9,-1.6,-1.7,-1.8,-1.9,-1.7,
-1.6,-1.7,-1.9,-1.9,-1.8,-1.7,-1.6,-1.7,-1.7,-1.7,
-1.7,-1.7,-1.7,-1.8,-1.7,-1.7,-1.8,-1.8,-1.7,-1.7,
-1.6,-1.8,-1.7,-1.7,-1.7,-1.6,-1.6,-1.6];
const B_X_WOESTYNE = [-11.4,-10.4,-6.6,7.8,8.2,-2.3,-2.1,9.8,1,-5.2,
4.8,1.3,1.2,0.6,1,2.2,1,0.1,1.2,2.4,
0.2,0.5,1.2,1.1,-0.8,1.7,1.7,1,1.5,1.5,
1.2,0.2,0.8,1,1,-0.2,0.9,1,1.2,1,
0.8,1,0.7,1.1,0.5,0.8,1,0.8,0.5,0.8,
0.7,0.8,0.7,0.7,0.9,0.7,1,0.8,1.4,0.4,
1.3,1.4,1.3,0.9,0.9,0.9,1,1,1,0.5,
0.8,0.9,0.4,0.7,0.9,1.1,0.9,1.2,1,0.9,
0.8,1,1.1,1.2,1,0.9,0.9,0.8,0.9,1,
1,0.9,0.8,0.9,0.9,0.9,0.9,1];

// facet definitions: first n and step between successive n
const FACET_NAMES = ["Diagonale", "EAS", "Losange", "W", "W tête-bêche", "X"];
const FACET_START = [3, 1, 4, 4, 8, 3];
const FACET_STEP = [1, 1, 1, 1, 2, 1];
const SECTION_A = [
  [A_DIAG_FLERS, A_DIAG_RENESCURE, A_DIAG_VERPILLIERES, A_DIAG_WOESTYNE],
  [A_EAS_FLERS, A_EAS_RENESCURE, A_EAS_VERPILLIERES, A_EAS_WOESTYNE],
  [A_LOS_FLERS, A_LOS_RENESCURE, A_LOS_VERPILLIERES, A_LOS_WOESTYNE],
  [A_W_FLERS, A_W_RENESCURE, A_W_VERPILLIERES, A_W_WOESTYNE],
  [A_WTB_FLERS, A_WTB_RENESCURE, A_WTB_VERPILLIERES, A_WTB_WOESTYNE],
  [A_X_FLERS, A_X_RENESCURE, A_X_VERPILLIERES, A_X_WOESTYNE],
];
const SECTION_B = [
  [B_DIAG_FLERS, B_DIAG_RENESCURE, B_DIAG_VERPILLIERES, B_DIAG_WOESTYNE],
  [B_EAS_FLERS, B_EAS_RENESCURE, B_EAS_VERPILLIERES, B_EAS_WOESTYNE],
  [B_LOS_FLERS, B_LOS_RENESCURE, B_LOS_VERPILLIERES, B_LOS_WOESTYNE],
  [B_W_FLERS, B_W_RENESCURE, B_W_VERPILLIERES, B_W_WOESTYNE],
  [B_WTB_FLERS, B_WTB_RENESCURE, B_WTB_VERPILLIERES, B_WTB_WOESTYNE],
  [B_X_FLERS, B_X_RENESCURE, B_X_VERPILLIERES, B_X_WOESTYNE],
];

// ---------------- LAYOUT ----------------
const FONT = "'Liberation Sans', Arial, Helvetica, sans-serif";
const COLS: [number, number][] = [[58, 692], [730, 1366]];
const STRIP_H = 26;

type PanelProps = {
  name: string;
  start: number;
  step: number;
  series: number[][];
  x0: number;
  x1: number;
  top: number;
  height: number;
  yMax: number;
  yTicks: number[];
  yMinor: number[];
};

function Panel(p: PanelProps) {
  const xs = d3.scaleLinear().domain([0.4, 100.6]).range([p.x0, p.x1]);
  const ys = d3.scaleLinear().domain([-p.yMax, p.yMax]).range([p.top + p.height, p.top]);
  const bottom = p.top + p.height;
  return (
    <g>
      <rect x={p.x0} y={p.top - STRIP_H} width={p.x1 - p.x0} height={STRIP_H} fill="#D9D9D9" />
      <text x={(p.x0 + p.x1) / 2} y={p.top - STRIP_H / 2} textAnchor="middle" dominantBaseline="central"
        fontSize={16} fill="#1A1A1A" fontFamily={FONT}>{p.name}</text>
      <rect x={p.x0} y={p.top} width={p.x1 - p.x0} height={p.height} fill="#FFFFFF" />
      {p.yMinor.map((v) => (
        <line key={"mn" + v} x1={p.x0} x2={p.x1} y1={ys(v)} y2={ys(v)} stroke="#EBEBEB" strokeWidth={0.6} />
      ))}
      {p.yTicks.map((v) => (
        <line key={"mj" + v} x1={p.x0} x2={p.x1} y1={ys(v)} y2={ys(v)} stroke="#EBEBEB" strokeWidth={1.1} />
      ))}
      {X_TICKS.map((v) => (
        <line key={"vx" + v} x1={xs(v)} x2={xs(v)} y1={p.top} y2={bottom} stroke="#EBEBEB" strokeWidth={1.1} />
      ))}
      {REF_LINES.map((v) => (
        <line key={"ref" + v} x1={p.x0} x2={p.x1} y1={ys(v)} y2={ys(v)} stroke="#000" strokeWidth={1.1}
          strokeDasharray="4,4" />
      ))}
      <line x1={p.x0} x2={p.x1} y1={ys(0)} y2={ys(0)} stroke="#000" strokeWidth={1.3} />
      {p.series.map((vals, si) => (
        <g key={"s" + si} fill={COLORS[si]}>
          {vals.map((v, i) => (
            <circle key={i} cx={xs(p.start + i * p.step)} cy={ys(v)} r={3} />
          ))}
        </g>
      ))}
      <line x1={p.x0} x2={p.x0} y1={p.top} y2={bottom} stroke="#333" strokeWidth={1.2} />
      <line x1={p.x0} x2={p.x1} y1={bottom} y2={bottom} stroke="#333" strokeWidth={1.2} />
      {p.yTicks.map((v) => (
        <g key={"yt" + v}>
          <line x1={p.x0 - 3} x2={p.x0} y1={ys(v)} y2={ys(v)} stroke="#333" strokeWidth={1.1} />
          <text x={p.x0 - 5} y={ys(v)} textAnchor="end" dominantBaseline="central" fontSize={13.5}
            fill="#4D4D4D" fontFamily={FONT}>{v}</text>
        </g>
      ))}
      {X_TICKS.map((v) => (
        <g key={"xt" + v}>
          <line x1={xs(v)} x2={xs(v)} y1={bottom} y2={bottom + 3} stroke="#333" strokeWidth={1.1} />
          <text x={xs(v)} y={bottom + 16} textAnchor="middle" fontSize={13.5} fill="#4D4D4D"
            fontFamily={FONT}>{v}</text>
        </g>
      ))}
    </g>
  );
}

function Section({ data, tops, height, yMax, yTicks, yMinor }: {
  data: number[][][]; tops: number[]; height: number; yMax: number; yTicks: number[]; yMinor: number[];
}) {
  return (
    <g>
      {data.map((series, fi) => {
        const row = Math.floor(fi / 2);
        const col = fi % 2;
        return (
          <Panel key={fi} name={FACET_NAMES[fi]} start={FACET_START[fi]} step={FACET_STEP[fi]}
            series={series} x0={COLS[col][0]} x1={COLS[col][1]} top={tops[row]} height={height}
            yMax={yMax} yTicks={yTicks} yMinor={yMinor} />
        );
      })}
    </g>
  );
}

const A_TOPS = [42, 319, 596];
const B_TOPS = [896, 1159, 1421];
const A_H = 224;
const B_H = 209;

const LEGEND_KEYS = [553, 627, 747, 867];

export default function App() {
  return (
    <svg width={1376} height={1705} viewBox="0 0 1376 1705"
      style={{ position: "absolute", left: 0, top: 0, background: "#fff" }}>
      <rect x={0} y={0} width={1376} height={1705} fill="#fff" />
      <text x={12} y={41} fontSize={36} fontWeight="bold" fontFamily={FONT} fill="#000">A</text>
      <text x={12} y={895} fontSize={36} fontWeight="bold" fontFamily={FONT} fill="#000">B</text>

      <Section data={SECTION_A} tops={A_TOPS} height={A_H} yMax={66} yTicks={Y_TICKS_A} yMinor={Y_MINOR_A} />
      <Section data={SECTION_B} tops={B_TOPS} height={B_H} yMax={33} yTicks={Y_TICKS_B} yMinor={Y_MINOR_B} />

      <text x={712} y={854} textAnchor="middle" fontSize={16} fontFamily={FONT} fill="#000">Nombre d'échantillons</text>
      <text x={712} y={1667} textAnchor="middle" fontSize={16} fontFamily={FONT} fill="#000">Nombre d'échantillons</text>
      <text transform={`translate(20,${(A_TOPS[0] + A_TOPS[2] + A_H) / 2}) rotate(-90)`} textAnchor="middle"
        fontSize={16} fontFamily={FONT} fill="#000">Erreur relative (%)</text>
      <text transform={`translate(20,${(B_TOPS[0] + B_TOPS[2] + B_H) / 2}) rotate(-90)`} textAnchor="middle"
        fontSize={16} fontFamily={FONT} fill="#000">Erreur relative (%)</text>

      <text x={465} y={1699} fontSize={16.5} fontFamily={FONT} fill="#000">Parcelle</text>
      {PARCELLES.map((name, i) => (
        <g key={name}>
          <rect x={LEGEND_KEYS[i] - 8.5} y={1685} width={17} height={17} fill="#F2F2F2" />
          <circle cx={LEGEND_KEYS[i]} cy={1693.5} r={2.5} fill={COLORS[i]} />
          <text x={LEGEND_KEYS[i] + 17} y={1699} fontSize={16} fontFamily={FONT} fill="#000">{name}</text>
        </g>
      ))}
    </svg>
  );
}
